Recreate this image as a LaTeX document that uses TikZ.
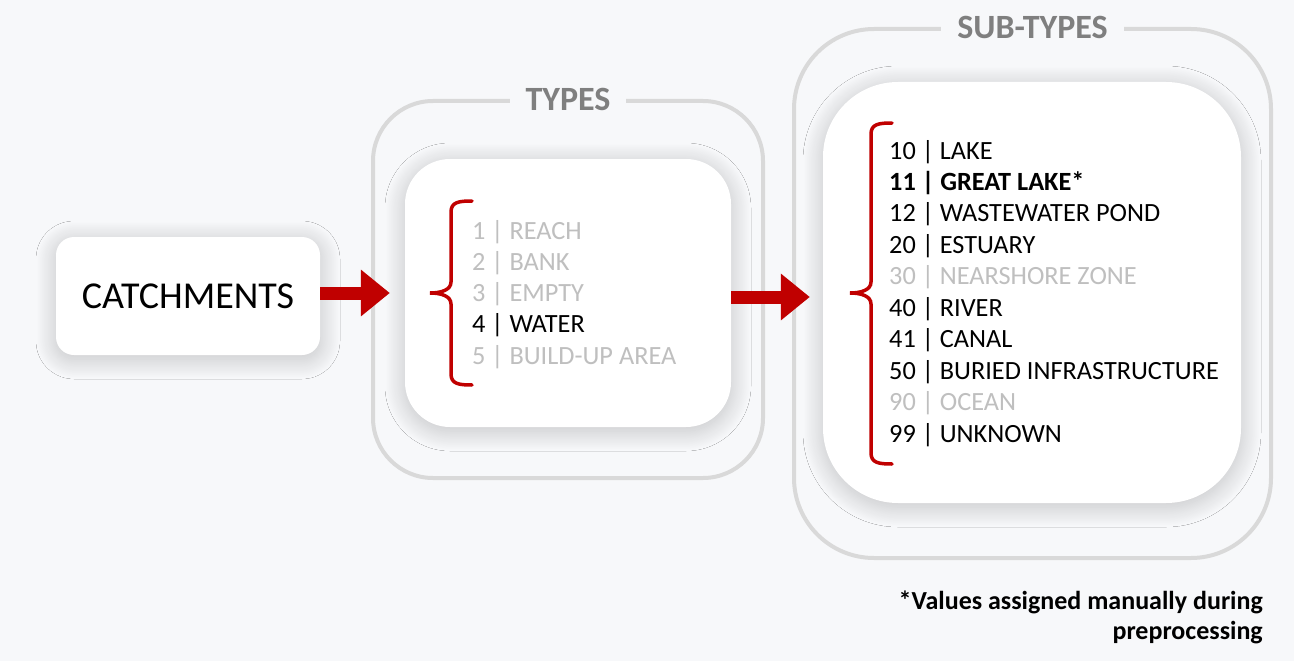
\documentclass[tikz,border=0pt]{standalone}
\usepackage{fontspec}
\setmainfont{Carlito}
\usetikzlibrary{arrows.meta,shadows.blur,positioning}
\definecolor{bgcol}{HTML}{F7F8FA}
\definecolor{framecol}{HTML}{D9D9D9}
\definecolor{arrowred}{HTML}{C00000}
\definecolor{fadetxt}{HTML}{BFBFBF}
\definecolor{headtxt}{HTML}{7F7F7F}
\begin{document}
\begin{tikzpicture}[x=1pt,y=-1pt,
    card/.style={fill=white,inner sep=0pt,
      blur shadow={shadow xshift=0pt,shadow yshift=-4pt,shadow blur radius=20pt,
        shadow blur steps=30,shadow opacity=22}},
    frame/.style={draw=framecol,line width=4pt,inner sep=0pt},
    header/.style={fill=bgcol,text=headtxt,inner xsep=16pt,inner ysep=3pt,
      font=\bfseries\fontsize{34}{36}\selectfont},
    flow/.style={draw=arrowred,line width=13pt,-{Triangle[length=29pt,width=45pt]}},
    curly/.style={draw=arrowred,line width=3.5pt,line cap=round},
    item/.style={anchor=base west,inner sep=0pt,font=\fontsize{26.3}{30}\selectfont},
    liston/.style={text=black},
    listoff/.style={text=fadetxt},
    listbold/.style={text=black,font=\bfseries\fontsize{26.3}{30}\selectfont}]
    \fill[bgcol] (0,0) rectangle (1294,661);
    \useasboundingbox (0,0) rectangle (1294,661);

    \node[frame,rounded corners=60pt,minimum width=390pt,minimum height=377pt] (typesfr) at (568,289.5) {};
    \node[frame,rounded corners=80pt,minimum width=477pt,minimum height=529pt] (subfr) at (1032.5,293.5) {};
    \node[header] (typeshd) at (typesfr.north) {TYPES};
    \node[header] (subhd) at (subfr.north) {SUB-TYPES};

    \node[card,rounded corners=18pt,minimum width=264pt,minimum height=118pt,
      font=\fontsize{38}{40}\selectfont] (catch) at (188,296) {CATCHMENTS};
    \node[card,rounded corners=45pt,minimum width=326pt,minimum height=268pt] (typesin) at (568,293) {};
    \node[card,rounded corners=75pt,minimum width=418pt,minimum height=421pt] (subin) at (1032,292.5) {};

    \draw[curly] (472,201) .. controls (459,201) and (451,202) .. (451,212) -- (451,282)
      .. controls (451,290) and (441,293) .. (430,293)
      .. controls (441,293) and (451,296) .. (451,304) -- (451,374)
      .. controls (451,384) and (459,385) .. (472,385);
    \draw[curly] (892,123) .. controls (879,123) and (871,124) .. (871,134) -- (871,282)
      .. controls (871,290) and (861,293) .. (850,293)
      .. controls (861,293) and (871,296) .. (871,304) -- (871,453)
      .. controls (871,463) and (879,464) .. (892,464);

    \foreach \n/\lbl/\sty [count=\i from 0] in {1/REACH/listoff,2/BANK/listoff,3/EMPTY/listoff,
        4/WATER/liston,5/BUILD-UP AREA/listoff}
      \node[item,\sty] (t\n) at (472,239+31.3*\i) {\n\ | \lbl};
    \foreach \n/\lbl/\sty [count=\i from 0] in {10/LAKE/liston,11/GREAT LAKE*/listbold,
        12/WASTEWATER POND/liston,20/ESTUARY/liston,30/NEARSHORE ZONE/listoff,
        40/RIVER/liston,41/CANAL/liston,50/BURIED INFRASTRUCTURE/liston,
        90/OCEAN/listoff,99/UNKNOWN/liston}
      \node[item,\sty] (s\n) at (889,159+31.45*\i) {\n\ | \lbl};

    \draw[flow] (catch.east |- typesin.west) -- ([xshift=-15pt]typesin.west);
    \draw[flow] ([yshift=-4pt]typesin.east) -- ([xshift=-13pt,yshift=-4pt]typesin.east -| subin.west);

    \node[anchor=north east,align=right,inner sep=0pt,
      font=\bfseries\fontsize{26}{30}\selectfont] (note) at (1263,591)
      {*Values assigned manually during\\preprocessing};
\end{tikzpicture}
\end{document}
